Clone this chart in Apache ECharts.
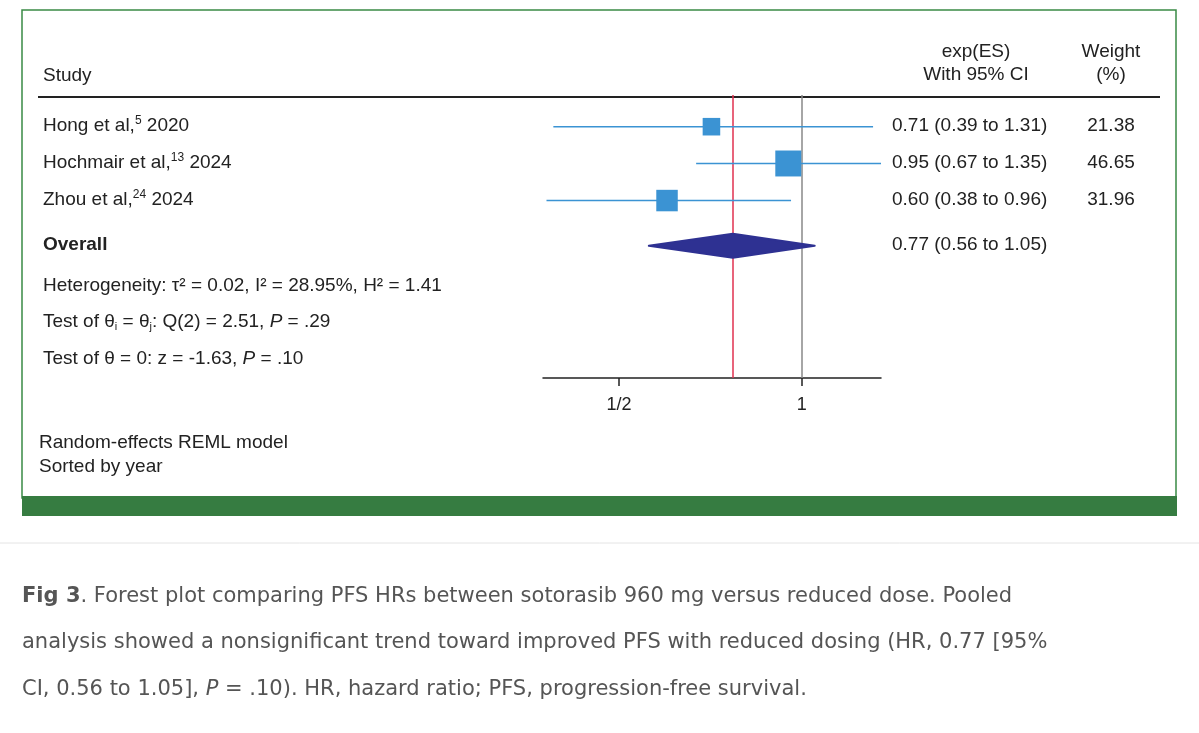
<!DOCTYPE html>
<html><head><meta charset="utf-8">
<script src="https://cdn.jsdelivr.net/npm/echarts@6/dist/echarts.min.js"></script>
<style>html,body{margin:0;padding:0;background:#fff}#c{width:1199px;height:733px}</style>
</head><body><div id="c"></div>
<script>
const studies = ['Hong et al,', 'Hochmair et al,', 'Zhou et al,'];
const refs = ['5', '13', '24'];
const years = ['2020', '2024', '2024'];
const estimates = [0.71, 0.95, 0.60];
const lower = [0.39, 0.67, 0.38];
const upper = [1.31, 1.35, 0.96];
const weights = [21.38, 46.65, 31.96];
const rowPos = [1.12, 2.42, 3.73];
const overall = [0.77, 0.56, 1.05];
const overallPos = 5.33;
const tickValues = [0.5, 1];
const tickLabels = {0.5: '1/2', 1: '1'};

const F = 'Liberation Sans, Arial, sans-serif';
const FS = 19;
const chart = echarts.init(document.getElementById('c'));
const txt = (x, y, text, extra) => ({type:'text', x, y, style: Object.assign({text, font:FS + 'px ' + F, fill:'#222', textVerticalAlign:'middle'}, extra||{})});
const sup = {sup:{fontSize:12, verticalAlign:'top', padding:[0,0,10,0], fontFamily:F, fill:'#222'}};
const CF = 'DejaVu Sans, sans-serif';

const graphics = [
  {type:'rect', shape:{x:22, y:10, width:1154, height:488}, style:{fill:'#fff', stroke:'#3a8a45', lineWidth:1.5}},
  {type:'rect', shape:{x:22, y:496, width:1155, height:20}, style:{fill:'#367c41'}},
  {type:'line', shape:{x1:0, y1:543, x2:1199, y2:543}, style:{stroke:'#e4e4e4', lineWidth:1}},
  {type:'line', shape:{x1:38, y1:97, x2:1160, y2:97}, style:{stroke:'#222', lineWidth:2}},
  txt(43, 76, 'Study'),
  txt(976, 52, 'exp(ES)', {textAlign:'center'}),
  txt(976, 75, 'With 95% CI', {textAlign:'center'}),
  txt(1111, 52, 'Weight', {textAlign:'center'}),
  txt(1111, 75, '(%)', {textAlign:'center'}),
  txt(43, 245, 'Overall', {font:'bold ' + FS + 'px ' + F}),
  txt(43, 286, 'Heterogeneity: τ² = 0.02, I² = 28.95%, H² = 1.41'),
  {type:'text', x:43, y:322, style:{text:'Test of θ{sub|i} = θ{sub|j}: Q(2) = 2.51, {it|P} = .29', font:FS+'px '+F, fill:'#222', textVerticalAlign:'middle',
    rich:{sub:{fontSize:11, verticalAlign:'bottom', padding:[10,0,0,0], fontFamily:F, fill:'#222'}, it:{fontStyle:'italic', fontSize:FS, fontFamily:F, fill:'#222'}}}},
  {type:'text', x:43, y:359, style:{text:'Test of θ = 0: z = -1.63, {it|P} = .10', font:FS+'px '+F, fill:'#222', textVerticalAlign:'middle',
    rich:{it:{fontStyle:'italic', fontSize:FS, fontFamily:F, fill:'#222'}}}},
  txt(39, 443, 'Random-effects REML model'),
  txt(39, 467, 'Sorted by year'),
  txt(892, 245, '0.77 (0.56 to 1.05)'),
  {type:'text', x:22, y:597, style:{text:'{b|Fig 3}. Forest plot comparing PFS HRs between sotorasib 960 mg versus reduced dose. Pooled', font:'21px '+CF, fill:'#555', textVerticalAlign:'middle', rich:{b:{fontWeight:'bold', fontSize:21, fontFamily:CF, fill:'#555'}}}},
  {type:'text', x:22, y:643, style:{text:'analysis showed a nonsignificant trend toward improved PFS with reduced dosing (HR, 0.77 [95%', font:'21px '+CF, fill:'#555', textVerticalAlign:'middle'}},
  {type:'text', x:22, y:690, style:{text:'CI, 0.56 to 1.05], {it|P} = .10). HR, hazard ratio; PFS, progression-free survival.', font:'21px '+CF, fill:'#555', textVerticalAlign:'middle', rich:{it:{fontStyle:'italic', fontSize:21, fontFamily:CF, fill:'#555'}}}}
];
const rowY = [126, 163, 200];
studies.forEach((s, i) => {
  graphics.push({type:'text', x:43, y:rowY[i], style:{text: s + '{sup|' + refs[i] + '} ' + years[i], font:FS+'px '+F, fill:'#222', textVerticalAlign:'middle', rich:sup}});
  graphics.push(txt(892, rowY[i], estimates[i].toFixed(2) + ' (' + lower[i].toFixed(2) + ' to ' + upper[i].toFixed(2) + ')'));
  graphics.push(txt(1111, rowY[i], weights[i].toFixed(2), {textAlign:'center'}));
});

chart.setOption({
  animation:false,
  graphic: graphics,
  grid:{left:543, right:318, top:95, bottom:355},
  xAxis:{type:'log', logBase:2, min:0.375, max:1.35, position:'bottom',
    axisLine:{onZero:false, lineStyle:{color:'#222', width:1.5}},
    axisTick:{customValues:tickValues, length:8, lineStyle:{color:'#222', width:1.5}},
    axisLabel:{customValues:tickValues, formatter:v => tickLabels[v] || '', color:'#222', fontSize:18, fontFamily:F, margin:18},
    splitLine:{show:false}},
  yAxis:{type:'value', min:0, max:10, inverse:true, show:false},
  series:[
    {type:'line', data:[], markLine:{symbol:'none', silent:true, label:{show:false},
      data:[{xAxis:1, lineStyle:{color:'#888', width:1.5, type:'solid'}}, {xAxis:overall[0], lineStyle:{color:'#e0304f', width:1.5, type:'solid'}}]}},
    {type:'custom', z:5,
      data: estimates.map((e, i) => [e, lower[i], upper[i], rowPos[i], weights[i]]),
      renderItem:(p, api) => {
        const y = api.value(3);
        const c = api.coord([api.value(0), y]);
        const l = api.coord([api.value(1), y]);
        const u = api.coord([api.value(2), y]);
        const s = 3.8 * Math.sqrt(api.value(4));
        return {type:'group', children:[
          {type:'line', shape:{x1:l[0], y1:l[1], x2:u[0], y2:u[1]}, style:{stroke:'#3b93d3', lineWidth:1.6}},
          {type:'rect', shape:{x:c[0]-s/2, y:c[1]-s/2, width:s, height:s}, style:{fill:'#3b93d3'}}
        ]};
      }},
    {type:'custom', z:5,
      data:[[overall[0], overall[1], overall[2], overallPos]],
      renderItem:(p, api) => {
        const y = api.value(3);
        const c = api.coord([api.value(0), y]);
        const l = api.coord([api.value(1), y]);
        const u = api.coord([api.value(2), y]);
        return {type:'polygon', shape:{points:[[l[0], c[1]], [c[0], c[1]-12], [u[0], c[1]], [c[0], c[1]+12]]}, style:{fill:'#2e3192', stroke:'#2e3192', lineWidth:2, lineJoin:'round'}};
      }}
  ]
});
</script></body></html>
